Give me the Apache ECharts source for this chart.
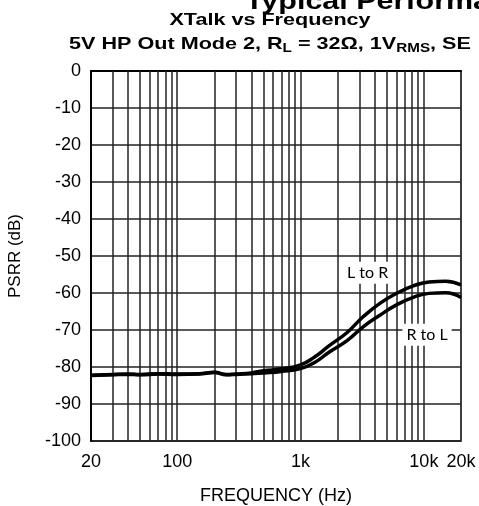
<!DOCTYPE html>
<html>
<head>
<meta charset="utf-8">
<script src="https://cdn.jsdelivr.net/npm/echarts@6/dist/echarts.min.js"></script>
<style>html,body{margin:0;padding:0;background:#fff}#c{width:479px;height:506px}</style>
</head>
<body>
<div id="c"></div>
<script>
// ---- data ----
var freqs = [20, 30, 40, 50, 70, 100, 150, 200, 250, 300, 400, 500, 700, 1000, 1300, 1700, 2400, 3200, 4400, 6000, 8200, 11000, 15000, 20000];
var lToR = [-82.2, -82.0, -81.9, -82.0, -81.8, -81.9, -81.8, -81.4, -82.0, -81.9, -81.6, -81.0, -80.5, -79.4, -77.3, -74.3, -70.6, -66.5, -62.8, -60.1, -58.1, -57.0, -56.8, -57.8];
var rToL = [-82.3, -82.1, -82.0, -82.1, -81.9, -82.0, -81.9, -81.5, -82.1, -82.0, -81.8, -81.6, -81.2, -80.4, -78.8, -76.0, -72.8, -69.2, -66.0, -63.2, -61.2, -60.1, -59.9, -61.2];
var gridFreqs = [30, 40, 50, 60, 70, 80, 90, 100, 200, 300, 400, 500, 600, 700, 800, 900, 1000, 2000, 3000, 4000, 5000, 6000, 7000, 8000, 9000, 10000];
var yTicks = [0, -10, -20, -30, -40, -50, -60, -70, -80, -90, -100];
var labelLtoR = {name: 'L to R', freq: 3500, db: -54.5};
var labelRtoL = {name: 'R to L', freq: 10600, db: -71.3};

function pairs(xs, ys) { return xs.map(function (x, i) { return [x, ys[i]]; }); }

var chart = echarts.init(document.getElementById('c'), null, {renderer: 'canvas'});
var FONT = '"Liberation Sans", Arial, sans-serif';
var option = {
  animation: false,
  backgroundColor: '#fff',
  grid: {left: 91, right: 18, top: 71, bottom: 65, containLabel: false, outerBoundsMode: 'none', show: true, borderColor: '#000', borderWidth: 1.5, backgroundColor: 'transparent'},
  graphic: [
    {type: 'text', x: 245, y: 2, scaleX: 1.27, style: {text: 'Typical Performance', font: 'bold 24px ' + FONT, fill: '#000', align: 'left', textAlign: 'left', verticalAlign: 'middle', textVerticalAlign: 'middle'}},
    {type: 'text', x: 270, y: 20, scaleX: 1.27, style: {text: 'XTalk vs Frequency', font: 'bold 17px ' + FONT, fill: '#000', align: 'center', textAlign: 'center', verticalAlign: 'middle', textVerticalAlign: 'middle'}},
    {type: 'text', x: 270, y: 44, scaleX: 1.27, style: {
      text: '5V HP Out Mode 2, R{sub|L} = 32Ω, 1V{sub|RMS}, SE',
      font: 'bold 17px ' + FONT, fill: '#000', align: 'center', textAlign: 'center', verticalAlign: 'middle', textVerticalAlign: 'middle',
      rich: {sub: {fontSize: 12, fontWeight: 'bold', fontFamily: FONT, padding: [9, 0, 0, 0], fill: '#000'}}
    }}
  ],
  xAxis: {
    type: 'log', logBase: 10, min: 20, max: 20000,
    name: 'FREQUENCY (Hz)', nameLocation: 'middle', nameGap: 46,
    nameTextStyle: {fontFamily: FONT, fontSize: 18, color: '#000'},
    axisLine: {show: true, lineStyle: {color: '#000', width: 2}},
    axisTick: {show: false},
    splitLine: {show: false},
    minorSplitLine: {show: false},
    axisLabel: {fontFamily: FONT, fontSize: 18, color: '#000', margin: 12,
      formatter: function (v) { return v >= 1000 ? (v / 1000) + 'k' : String(v); }}
  },
  yAxis: {
    type: 'value', min: -100, max: 0, interval: 10,
    name: 'PSRR (dB)', nameLocation: 'middle', nameGap: 67,
    nameTextStyle: {fontFamily: FONT, fontSize: 17, color: '#000'},
    axisLine: {show: true, lineStyle: {color: '#000', width: 2}},
    axisTick: {show: false},
    splitLine: {show: true, lineStyle: {color: '#222', width: 1.5}},
    axisLabel: {fontFamily: FONT, fontSize: 18, color: '#000', margin: 10,
      formatter: function (v) { return yTicks.indexOf(v) >= 0 ? String(v) : ''; }}
  },
  series: [
    {
      type: 'line', data: [], z: 1, silent: true, symbol: 'none',
      markLine: {
        silent: true, symbol: ['none', 'none'], label: {show: false}, animation: false,
        lineStyle: {type: 'solid', color: '#222', width: 1.5},
        data: gridFreqs.map(function (f) { return {xAxis: f}; })
      }
    },
    {
      type: 'line', name: 'L to R', data: pairs(freqs, lToR), smooth: true, symbol: 'none', z: 5,
      lineStyle: {color: '#000', width: 3.5},
      markPoint: {
        symbol: 'rect', symbolSize: 0,
        label: {show: true, position: 'inside', formatter: '{b}', fontFamily: 'Lato', fontSize: 16, color: '#000', backgroundColor: '#fff', padding: [3, 4]},
        data: [{name: labelLtoR.name, coord: [labelLtoR.freq, labelLtoR.db]}]
      }
    },
    {
      type: 'line', name: 'R to L', data: pairs(freqs, rToL), smooth: true, symbol: 'none', z: 5,
      lineStyle: {color: '#000', width: 3.5},
      markPoint: {
        symbol: 'rect', symbolSize: 0,
        label: {show: true, position: 'inside', formatter: '{b}', fontFamily: 'Lato', fontSize: 16, color: '#000', backgroundColor: '#fff', padding: [3, 4]},
        data: [{name: labelRtoL.name, coord: [labelRtoL.freq, labelRtoL.db]}]
      }
    }
  ]
};
chart.setOption(option);
</script>
</body>
</html>
